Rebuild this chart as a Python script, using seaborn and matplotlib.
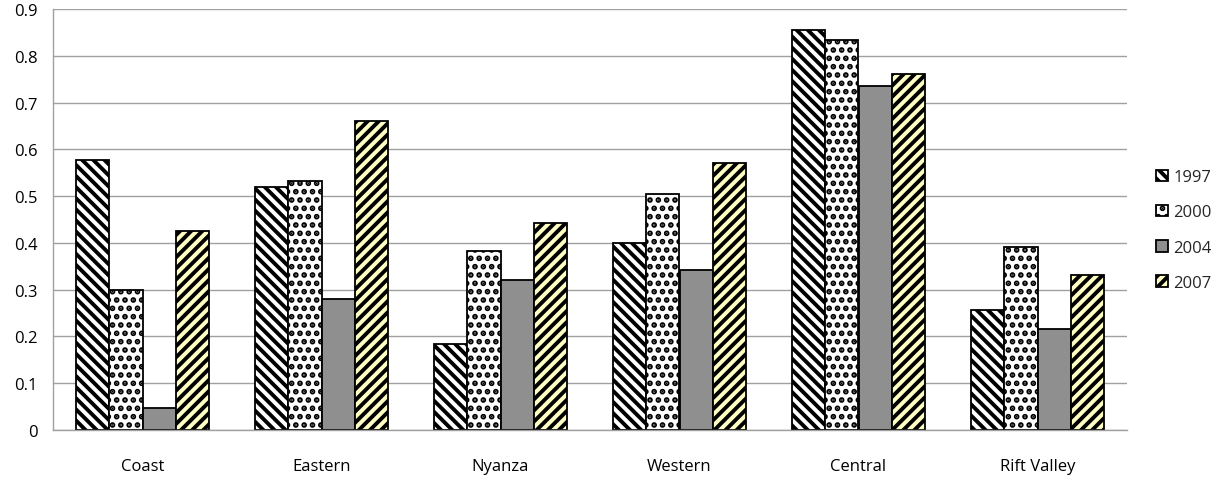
import matplotlib
matplotlib.use("Agg")
import matplotlib.pyplot as plt
import seaborn as sns
import pandas as pd

regions = ["Coast", "Eastern", "Nyanza", "Western", "Central", "Rift Valley"]
years = ["1997", "2000", "2004", "2007"]
v1997 = [0.578, 0.520, 0.183, 0.400, 0.855, 0.256]
v2000 = [0.300, 0.532, 0.383, 0.505, 0.834, 0.392]
v2004 = [0.047, 0.280, 0.320, 0.343, 0.735, 0.216]
v2007 = [0.425, 0.661, 0.443, 0.571, 0.761, 0.332]
yticks = [0, 0.1, 0.2, 0.3, 0.4, 0.5, 0.6, 0.7, 0.8, 0.9]
ytick_labels = ["0", "0.1", "0.2", "0.3", "0.4", "0.5", "0.6", "0.7", "0.8", "0.9"]

rows = []
for yr, vals in zip(years, [v1997, v2000, v2004, v2007]):
    for r, v in zip(regions, vals):
        rows.append({"Region": r, "Year": yr, "Value": v})
df = pd.DataFrame(rows)

sns.set_style("white")
plt.rcParams["font.family"] = ["Open Sans", "DejaVu Sans"]
plt.rcParams["hatch.linewidth"] = 2.8
plt.rcParams["hatch.color"] = "black"

fig = plt.figure(figsize=(12.27, 4.81), dpi=100)
ax = fig.add_axes([53 / 1227, 50 / 481, (1127 - 53) / 1227, 421 / 481])

faces = {"1997": "white", "2000": "white", "2004": "#8f8f8f", "2007": "#ffffc4"}
hatches = {"1997": "\\" * 3, "2000": "..", "2004": "", "2007": "/" * 3}

sns.barplot(data=df, x="Region", y="Value", hue="Year", order=regions,
            hue_order=years, width=0.74, gap=0, ax=ax,
            palette=[faces[y] for y in years], edgecolor="black",
            linewidth=1.3, saturation=1, errorbar=None)

for container, yr in zip(ax.containers, years):
    for bar in container:
        bar.set_facecolor(faces[yr])
        bar.set_hatch(hatches[yr])
        bar.set_edgecolor("black")

ax.set_ylim(0, 0.9)
ax.set_yticks(yticks)
ax.set_yticklabels(ytick_labels)
ax.set_xlabel("")
ax.set_ylabel("")
ax.yaxis.grid(True, color="#a0a0a0", linewidth=1)
ax.set_axisbelow(True)
for s in ["top", "right"]:
    ax.spines[s].set_visible(False)
for s in ["left", "bottom"]:
    ax.spines[s].set_color("#a0a0a0")
    ax.spines[s].set_linewidth(1)
ax.tick_params(axis="both", length=0, labelsize=12, colors="black")
ax.tick_params(axis="x", pad=20)
ax.tick_params(axis="y", pad=11)

handles, labels = ax.get_legend_handles_labels()
leg = ax.legend(handles, labels, loc="center left",
                bbox_to_anchor=(1141 / 1227, (481 - 231) / 481),
                bbox_transform=fig.transFigure, frameon=False,
                fontsize=12, handlelength=0.7, handleheight=0.7,
                handletextpad=0.35, labelspacing=1.15)
for h, yr in zip(leg.legend_handles, years):
    h.set_facecolor(faces[yr])
    h.set_hatch(hatches[yr])
    h.set_edgecolor("black")

fig.savefig("out.png", dpi=100)
